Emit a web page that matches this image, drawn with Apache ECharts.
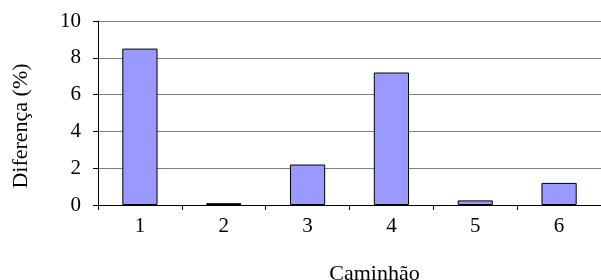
<!DOCTYPE html>
<html>
<head>
<meta charset="utf-8">
<script src="https://cdn.jsdelivr.net/npm/echarts@6/dist/echarts.min.js"></script>
<style>
  html, body { margin: 0; padding: 0; background: #fff; }
  #chart { width: 601px; height: 280px; }
</style>
</head>
<body>
<div id="chart"></div>
<script>
var categories = ['1', '2', '3', '4', '5', '6'];
var diferenca = [8.5, 0.1, 2.2, 7.2, 0.25, 1.2];

var chart = echarts.init(document.getElementById('chart'));
var font = '"Liberation Serif", "Times New Roman", serif';

chart.setOption({
    animation: false,
    grid: { left: 98, right: 0, top: 21, bottom: 75, outerBoundsMode: 'none', containLabel: false },
    xAxis: {
        type: 'category',
        data: categories,
        name: 'Caminhão',
        nameLocation: 'middle',
        nameGap: 58,
        // titulo um pouco deslocado para a direita
        nameTextStyle: { fontFamily: font, fontSize: 22, color: '#000', padding: [0, 0, 0, 50] },
        axisLine: { lineStyle: { color: '#000', width: 1 } },
        axisTick: { show: true, length: 5, lineStyle: { color: '#000' } },
        axisLabel: { fontFamily: font, fontSize: 21, color: '#000', margin: 11 }
    },
    yAxis: {
        type: 'value',
        min: 0,
        max: 10,
        interval: 2,
        name: 'Diferença (%)',
        nameLocation: 'middle',
        nameGap: 66,
        nameTextStyle: { fontFamily: font, fontSize: 22, color: '#000', padding: [0, 26, 0, 0] },
        axisLine: { show: true, lineStyle: { color: '#000', width: 1 } },
        axisTick: { show: true, length: 5, lineStyle: { color: '#000' } },
        axisLabel: { fontFamily: font, fontSize: 21, color: '#000', margin: 17 },
        splitLine: { show: true, lineStyle: { color: '#808080', width: 1 } }
    },
    series: [{
        type: 'bar',
        data: diferenca,
        barWidth: '42%',
        itemStyle: { color: '#9999ff', borderColor: '#000', borderWidth: 1 }
    }]
});
</script>
</body>
</html>
